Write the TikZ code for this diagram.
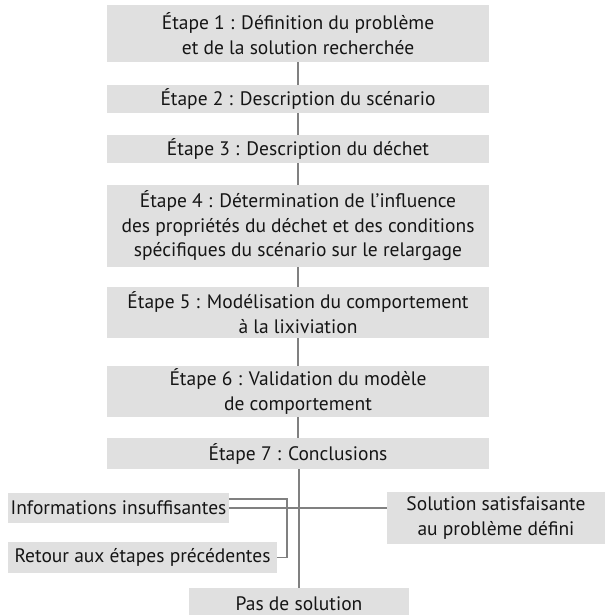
\documentclass[tikz,border=0pt]{standalone}
\usepackage{fontspec}
\setmainfont{PT Sans}
\usetikzlibrary{calc}
\definecolor{boxgray}{HTML}{E0E0E0}
\definecolor{linegray}{HTML}{808080}
\definecolor{txt}{HTML}{151515}
\begin{document}
\begin{tikzpicture}[x=1pt,y=-1pt,
  stepbox/.style={fill=boxgray, draw=none, inner sep=0pt, minimum width=382pt, align=center, text=txt, font=\fontsize{19.5}{24.5}\selectfont},
  sidebox/.style={fill=boxgray, draw=none, inner sep=0pt, align=center, text=txt, font=\fontsize{19.5}{24.5}\selectfont},
  conn/.style={draw=linegray, line width=1.1pt}]
\clip (0,0) rectangle (614,615);
\useasboundingbox (0,0) rectangle (614,615);
\fill[white] (0,0) rectangle (614,615);
\node[stepbox, minimum height=57pt] (s1) at (298,33.5) {Étape 1 : Définition du problème\\et de la solution recherchée};
\node[stepbox, minimum height=28pt] (s2) at (298,99) {Étape 2 : Description du scénario};
\node[stepbox, minimum height=28pt] (s3) at (298,149) {Étape 3 : Description du déchet};
\node[stepbox, minimum height=82pt] (s4) at (298,226) {Étape 4 : Détermination de l’influence\\des propriétés du déchet et des conditions\\spécifiques du scénario sur le relargage};
\node[stepbox, minimum height=51pt] (s5) at (298,312.5) {Étape 5 : Modélisation du comportement\\à la lixiviation};
\node[stepbox, minimum height=51pt] (s6) at (298,391.5) {Étape 6 : Validation du modèle\\de comportement};
\node[stepbox, minimum height=31pt] (s7) at (298,453.5) {Étape 7 : Conclusions};
\node[sidebox, minimum width=221pt, minimum height=30pt] (info) at (118.5,508) {Informations insuffisantes};
\node[sidebox, minimum width=269pt, minimum height=31pt] (ret) at (142.5,557.5) {Retour aux étapes précédentes};
\node[sidebox, minimum width=218pt, minimum height=52pt] (sol) at (496,518) {Solution satisfaisante\\au problème défini};
\node[sidebox, minimum width=220pt, minimum height=32pt] (pas) at (299,604) {Pas de solution};
\draw[conn] (s1) -- (s2);
\draw[conn] (s2) -- (s3);
\draw[conn] (s3) -- (s4);
\draw[conn] (s4) -- (s5);
\draw[conn] (s5) -- (s6);
\draw[conn] (s6) -- (s7);
\draw[conn] (s7.south -| pas.north) -- (pas.north);
\draw[conn] (info.east) -- (info.east -| sol.west);
\coordinate (bk) at (287,0);
\draw[conn] ([yshift=9pt]info.east) -- ([yshift=9pt]info.east -| bk) -- (ret.east -| bk) -- (ret.east);
\end{tikzpicture}
\end{document}
